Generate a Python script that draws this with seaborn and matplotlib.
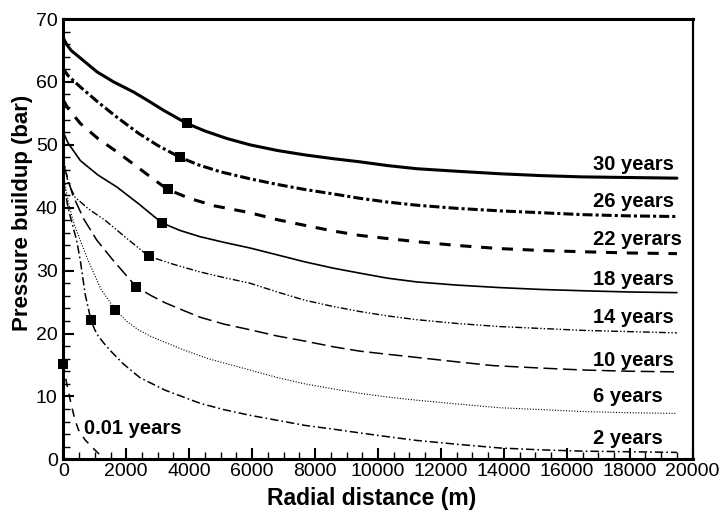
import numpy as np
import pandas as pd
import seaborn as sns
import matplotlib.pyplot as plt
from matplotlib.ticker import MultipleLocator

# pressure buildup profiles (distance in m, pressure in bar)
x_30 = [0, 100, 250, 540, 1070, 1600, 2230, 2700, 3180, 3925, 4500, 5200, 5930, 6800,
        7670, 8570, 9420, 10300, 11230, 12500, 13870, 15200, 16500, 18000, 19500]
y_30 = [67.0, 66.0, 65.0, 63.8, 61.6, 60.0, 58.4, 57.0, 55.5, 53.4, 52.2, 51.0, 50.0, 49.1,
        48.4, 47.8, 47.3, 46.7, 46.2, 45.8, 45.4, 45.1, 44.9, 44.8, 44.7]

x_26 = [0, 150, 540, 1100, 1700, 2400, 3000, 3714, 4300, 5000, 5930, 6800, 7670, 8570,
        9420, 10300, 11230, 12500, 13870, 15200, 16500, 18000, 19500]
y_26 = [62.1, 61.0, 59.2, 56.8, 54.4, 51.8, 49.9, 48.0, 46.8, 45.7, 44.6, 43.7, 42.9, 42.2,
        41.5, 40.9, 40.4, 39.9, 39.5, 39.2, 38.9, 38.7, 38.6]

x_22 = [0, 150, 540, 1100, 1700, 2400, 2900, 3323, 4000, 4800, 5930, 6800, 7670, 8570,
        9420, 10300, 11230, 12500, 13870, 15200, 16500, 18000, 19500]
y_22 = [57.1, 55.8, 53.4, 51.0, 48.9, 46.3, 44.4, 42.9, 41.5, 40.3, 39.2, 38.1, 37.2, 36.3,
        35.6, 35.1, 34.6, 34.0, 33.5, 33.2, 33.0, 32.8, 32.7]

x_18 = [0, 150, 540, 1100, 1700, 2400, 3130, 3700, 4340, 5100, 5930, 6800, 7670, 8570,
        9420, 10300, 11230, 12500, 13870, 15200, 16500, 18000, 19500]
y_18 = [52.0, 50.3, 47.5, 45.2, 43.3, 40.6, 37.6, 36.4, 35.4, 34.5, 33.6, 32.5, 31.4, 30.4,
        29.6, 28.8, 28.2, 27.7, 27.3, 27.0, 26.8, 26.6, 26.5]

x_14 = [0, 150, 370, 800, 1330, 2000, 2710, 3500, 4340, 5100, 5930, 6800, 7670, 8570,
        9420, 10300, 11230, 12500, 13870, 15200, 16500, 18000, 19500]
y_14 = [48.0, 44.0, 41.7, 39.8, 38.0, 35.2, 32.3, 31.0, 29.8, 28.9, 28.0, 26.6, 25.3, 24.3,
        23.5, 22.8, 22.2, 21.6, 21.1, 20.8, 20.5, 20.3, 20.1]

x_10 = [0, 150, 300, 650, 1070, 1590, 2320, 2800, 3230, 3800, 4340, 5100, 5930, 6800, 7670,
        8570, 9420, 10300, 11230, 12500, 13650, 15200, 16500, 18000, 19500]
y_10 = [47.0, 44.5, 42.0, 38.2, 34.8, 31.6, 27.4, 26.0, 24.9, 23.7, 22.6, 21.5, 20.6, 19.6, 18.8,
        17.9, 17.2, 16.7, 16.2, 15.5, 14.9, 14.5, 14.2, 14.0, 13.9]

x_6 = [0, 100, 200, 350, 540, 790, 1200, 1650, 2000, 2380, 2800, 3230, 3820, 4600, 5930,
       6800, 7670, 8570, 9420, 10300, 11230, 12500, 13870, 15200, 16500, 18000, 19500]
y_6 = [45.5, 42.5, 40.0, 37.3, 34.8, 31.6, 27.0, 23.8, 22.0, 20.6, 19.5, 18.6, 17.4, 16.0, 14.2,
       13.0, 12.0, 11.2, 10.5, 9.9, 9.4, 8.8, 8.2, 7.9, 7.6, 7.4, 7.3]

x_2 = [0, 80, 150, 280, 425, 540, 700, 880, 1000, 1110, 1300, 1530, 1900, 2430, 3230, 4350,
       5100, 5930, 6800, 7670, 8570, 9420, 10300, 11230, 12500, 13870, 15200, 16500, 18000, 19500]
y_2 = [44.0, 42.0, 40.0, 37.5, 34.8, 31.6, 26.1, 22.1, 20.6, 19.6, 18.4, 17.1, 15.2, 13.0, 11.0, 8.9,
       7.9, 7.0, 6.2, 5.4, 4.8, 4.2, 3.6, 3.0, 2.4, 1.8, 1.5, 1.3, 1.2, 1.1]

x_001 = [0, 105, 265, 370, 480, 690, 1000, 1250]
y_001 = [15.2, 12.1, 8.4, 6.3, 4.7, 3.1, 1.5, 0.3]

# plume front positions (black squares)
front_x = [3925, 3714, 3323, 3130, 2710, 2320, 1650, 880, 0]
front_y = [53.4, 48.0, 42.9, 37.6, 32.3, 27.4, 23.8, 22.1, 15.2]

# curve labels
label_text = ["30 years", "26 years", "22 yerars", "18 years", "14 years",
              "10 years", "6 years", "2 years"]
label_y = [46.0, 40.1, 34.0, 27.7, 21.6, 14.9, 9.1, 2.5]

sns.set_style("ticks", rc={"axes.edgecolor": "black", "text.color": "black",
                           "axes.labelcolor": "black", "xtick.color": "black",
                           "ytick.color": "black"})
plt.rcParams['font.family'] = ['Liberation Sans', 'DejaVu Sans']
plt.rcParams['lines.scale_dashes'] = False

fig = plt.figure(figsize=(7.21, 5.14), dpi=100)
ax = fig.add_axes([0.0878, 0.1064, 0.8729, 0.8566])

# (x, y, linewidth, linestyle) for each curve
curves = [
    (x_30, y_30, 2.2, '-'),
    (x_26, y_26, 2.2, (0, (7.2, 2.2, 2.2, 2.2))),
    (x_22, y_22, 2.2, (0, (8, 7))),
    (x_18, y_18, 1.2, '-'),
    (x_14, y_14, 1.0, (0, (5, 1.5, 1, 1.5, 1, 1.5))),
    (x_10, y_10, 1.1, (0, (10, 4))),
    (x_6, y_6, 0.8, (0, (0.8, 1.2))),
    (x_2, y_2, 1.1, (0, (6, 2.2, 1.2, 2.2))),
    (x_001, y_001, 1.1, (0, (6, 5))),
]
for xs, ys, lw, ls in curves:
    df = pd.DataFrame({"r": xs, "p": ys})
    sns.lineplot(data=df, x="r", y="p", ax=ax, color="black", linewidth=lw,
                 linestyle=ls, estimator=None, sort=False)

sns.scatterplot(x=front_x, y=front_y, ax=ax, marker="s", s=48, color="black",
                edgecolor="black", linewidth=0, clip_on=False, zorder=5)

for txt, yv in zip(label_text, label_y):
    ax.text(16830, yv, txt, ha="left", va="baseline", fontsize=14.5, fontweight="bold")
ax.text(670, 4.1, "0.01 years", ha="left", va="baseline", fontsize=14.5, fontweight="bold")

ax.set_xlim(0, 20000)
ax.set_ylim(0, 70)
ax.xaxis.set_major_locator(MultipleLocator(2000))
ax.xaxis.set_minor_locator(MultipleLocator(500))
ax.yaxis.set_major_locator(MultipleLocator(10))
ax.yaxis.set_minor_locator(MultipleLocator(2))
ax.tick_params(which="major", direction="in", length=8, width=1.5, labelsize=14,
               top=False, right=False)
ax.tick_params(which="minor", direction="in", length=5, width=1.0, top=False, right=False)
ax.tick_params(axis="x", which="major", pad=3)
ax.tick_params(axis="y", which="major", pad=4)

for side in ["left", "bottom", "top"]:
    ax.spines[side].set_linewidth(2.2)
ax.spines["right"].set_linewidth(1.6)

ax.set_xlabel("Radial distance (m)", fontsize=16.5, fontweight="bold")
ax.set_ylabel("Pressure buildup (bar)", fontsize=16, fontweight="bold")
ax.xaxis.set_label_coords(0.49, -0.062)
ax.yaxis.set_label_coords(-0.048, 0.56)

plt.savefig("out.png", dpi=100)
